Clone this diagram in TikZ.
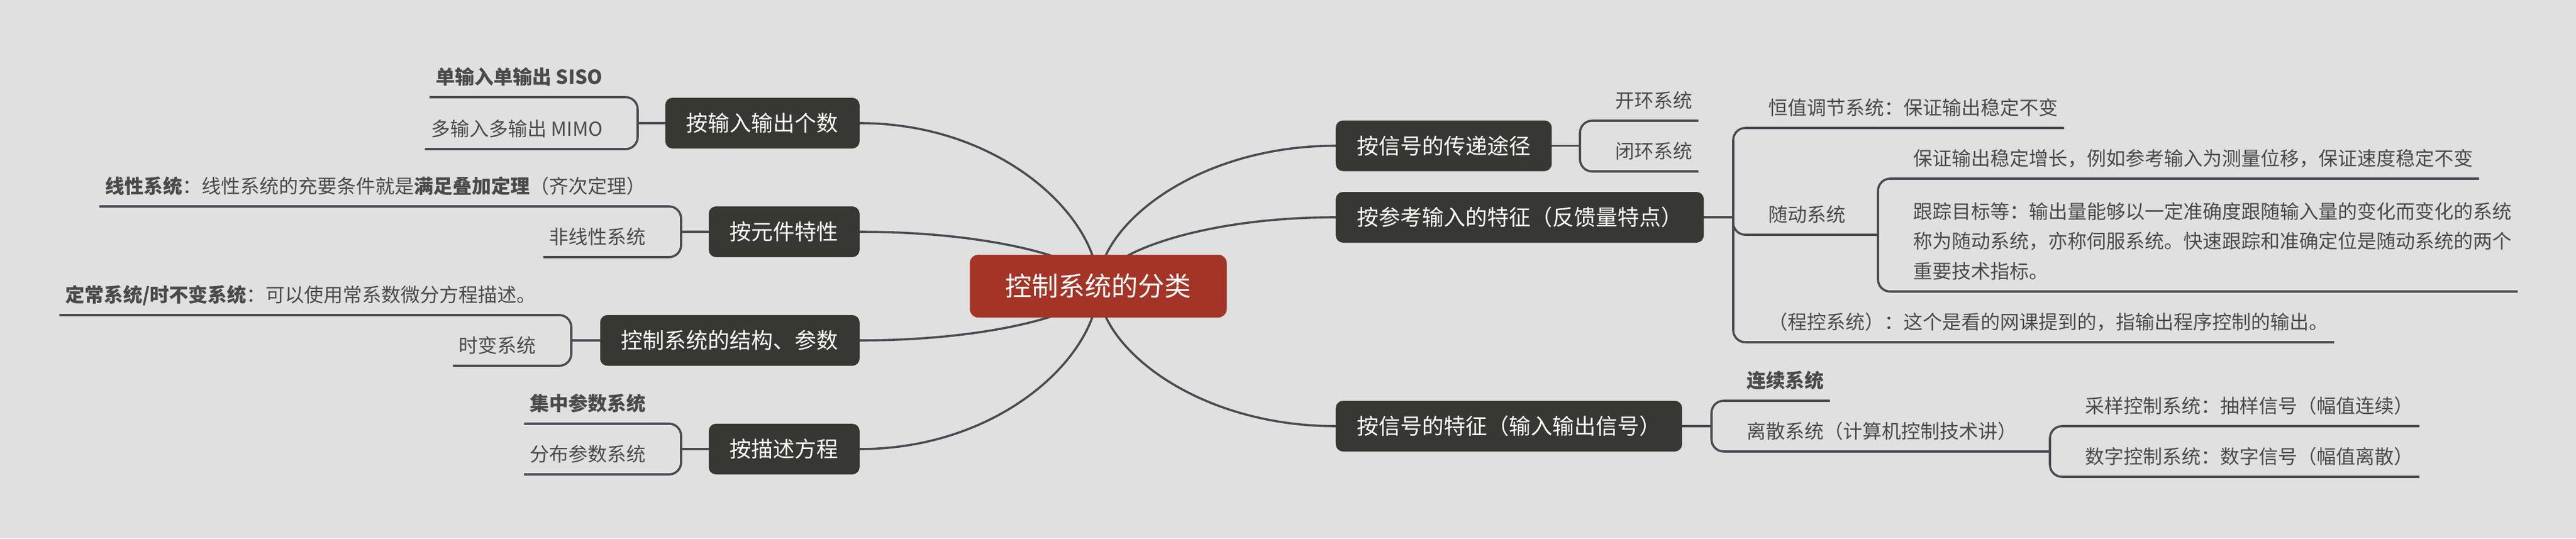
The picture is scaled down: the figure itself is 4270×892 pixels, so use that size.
\documentclass[tikz,border=0pt]{standalone}
\usepackage{fontspec}
\setmainfont{Noto Sans CJK SC}
\usetikzlibrary{calc,backgrounds}
\definecolor{bgc}{HTML}{E0E0E0}
\definecolor{rootc}{HTML}{A43425}
\definecolor{boxc}{HTML}{383832}
\definecolor{linec}{HTML}{4A4A50}
\definecolor{leafc}{HTML}{4A4A4A}
\begin{document}
\begin{tikzpicture}[x=1pt,y=-1pt,
  link/.style={draw=linec, line width=3.6pt, rounded corners=20pt},
  curve/.style={draw=linec, line width=3.6pt},
  branchbox/.style={fill=boxc, text=white, rounded corners=12pt, inner xsep=35pt, inner ysep=0pt, minimum height=84pt, font=\fontsize{36}{40}\selectfont},
  rootbox/.style={fill=rootc, text=white, rounded corners=14pt, inner xsep=59pt, inner ysep=0pt, minimum height=104pt, font=\fontsize{44}{50}\selectfont},
  leaf/.style={inner sep=0pt, text=leafc, font=\fontsize{32}{38}\selectfont}]
\useasboundingbox (0,0) rectangle (4270,892);

% root and main branches
\node[rootbox] (root) at (1820.5,474) {控制系统的分类};
\node[branchbox, anchor=east] (L1) at (1425,204) {按输入输出个数};
\node[branchbox, anchor=east] (L2) at (1425,384) {按元件特性};
\node[branchbox, anchor=east] (L3) at (1425,564) {控制系统的结构、参数};
\node[branchbox, anchor=east] (L4) at (1425,744) {按描述方程};
\node[branchbox, anchor=west] (R1) at (2214,241.5) {按信号的传递途径};
\node[branchbox, anchor=west] (R2) at (2214,360) {按参考输入的特征（反馈量特点）};
\node[branchbox, anchor=west] (R3) at (2214,706) {按信号的特征（输入输出信号）};

% junctions
\coordinate (jL1) at (1057,204);
\coordinate (jL2) at (1129,384);
\coordinate (jL3) at (947,564);
\coordinate (jL4) at (1129,744);
\coordinate (jR1) at (2619,241.5);
\coordinate (jR2) at (2873,360);
\coordinate (jR22) at (3113,389);
\coordinate (jR3) at (2837,706);
\coordinate (jR32) at (3398,748);

% leaves, left
\node[leaf, anchor=base east] (cL11) at (999,139) {\textbf{单输入单输出 SISO}};
\node[leaf, anchor=base east] (cL12) at (999,225) {多输入多输出 MIMO};
\node[leaf, anchor=base east] (cL21) at (1071,320) {\textbf{线性系统}：线性系统的充要条件就是\textbf{满足叠加定理}（齐次定理）};
\node[leaf, anchor=base east] (cL22) at (1071,404) {非线性系统};
\node[leaf, anchor=base east] (cL31) at (889,500) {\textbf{定常系统/时不变系统}：可以使用常系数微分方程描述。};
\node[leaf, anchor=base east] (cL32) at (889,584) {时变系统};
\node[leaf, anchor=base east] (cL41) at (1071,680) {\textbf{集中参数系统}};
\node[leaf, anchor=base east] (cL42) at (1071,764) {分布参数系统};

% leaves, right
\node[leaf, anchor=base west] (cR11) at (2677,178) {开环系统};
\node[leaf, anchor=base west] (cR12) at (2677,262) {闭环系统};
\node[leaf, anchor=base west] (cR21) at (2931,190) {恒值调节系统：保证输出稳定不变};
\node[leaf, anchor=base west] (cR22) at (2931,367) {随动系统};
\node[leaf, anchor=base west] (cR221) at (3171,274) {保证输出稳定增长，例如参考输入为测量位移，保证速度稳定不变};
\node[leaf, anchor=base west] (cR222) at (3171,362) {\vtop{\baselineskip=49.5pt\lineskiplimit=-100pt
  \hbox{跟踪目标等：输出量能够以一定准确度跟随输入量的变化而变化的系统}
  \hbox{称为随动系统，亦称伺服系统。快速跟踪和准确定位是随动系统的两个}
  \hbox{重要技术指标。}}};
\node[leaf, anchor=base west] (cR23) at (2931,545) {（程控系统）：这个是看的网课提到的，指输出程序控制的输出。};
\node[leaf, anchor=base west] (cR31) at (2895,642) {\textbf{连续系统}};
\node[leaf, anchor=base west] (cR32) at (2895,726) {离散系统（计算机控制技术讲）};
\node[leaf, anchor=base west] (cR321) at (3456,684) {采样控制系统：抽样信号（幅值连续）};
\node[leaf, anchor=base west] (cR322) at (3456,768) {数字控制系统：数字信号（幅值离散）};

% parent to junction
\draw[link] (L1.west) -- (jL1);
\draw[link] (L2.west) -- (jL2);
\draw[link] (L3.west) -- (jL3);
\draw[link] (L4.west) -- (jL4);
\draw[link] (R1.east) -- (jR1);
\draw[link] (R2.east) -- (jR2);
\draw[link] (R3.east) -- (jR3);

% brackets and underlines, left
\draw[link] (jL1) |- ($(cL11.base west)+(-10,22)$);
\draw[link] (jL1) |- ($(cL12.base west)+(-10,22)$);
\draw[link] (jL2) |- ($(cL21.base west)+(-10,22)$);
\draw[link] (jL2) |- ($(cL22.base west)+(-10,22)$);
\draw[link] (jL3) |- ($(cL31.base west)+(-10,22)$);
\draw[link] (jL3) |- ($(cL32.base west)+(-10,22)$);
\draw[link] (jL4) |- ($(cL41.base west)+(-10,22)$);
\draw[link] (jL4) |- ($(cL42.base west)+(-10,22)$);

% brackets and underlines, right
\draw[link] (jR1) |- ($(cR11.base east)+(10,22)$);
\draw[link] (jR1) |- ($(cR12.base east)+(10,22)$);
\draw[link] (jR2) |- ($(cR21.base east)+(10,22)$);
\draw[link] (jR2) |- (jR22);
\draw[link] (jR2) |- ($(cR23.base east)+(10,22)$);
\draw[link] (jR22) |- ($(cR221.base east)+(10,22)$);
\draw[link] (jR22) |- ($(cR222.base east)+(10,121)$);
\draw[link] (jR3) |- ($(cR31.base east)+(10,22)$);
\draw[link] (jR3) |- (jR32);
\draw[link] (jR32) |- ($(cR321.base east)+(10,22)$);
\draw[link] (jR32) |- ($(cR322.base east)+(10,22)$);

% background and root curves
\begin{scope}[on background layer]
\fill[bgc] (0,0) rectangle (4270,892);
\draw[curve] (root.center) .. controls (1820,358) and (1658,204) .. (L1.east);
\draw[curve] (root.center) .. controls (1820,435) and (1658,384) .. (L2.east);
\draw[curve] (root.center) .. controls (1820,513) and (1658,564) .. (L3.east);
\draw[curve] (root.center) .. controls (1820,590) and (1658,744) .. (L4.east);
\draw[curve] (root.center) .. controls (1820,374) and (1982,241.5) .. (R1.west);
\draw[curve] (root.center) .. controls (1820,425) and (1982,360) .. (R2.west);
\draw[curve] (root.center) .. controls (1820,574) and (1982,706) .. (R3.west);
\end{scope}
\end{tikzpicture}
\end{document}
